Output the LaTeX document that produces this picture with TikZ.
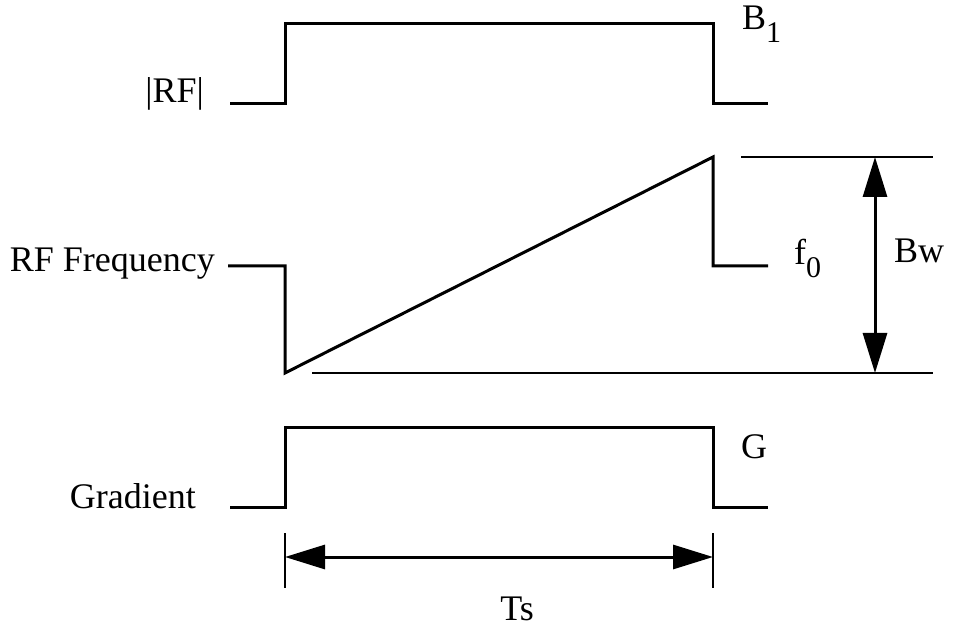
\documentclass[tikz,border=0pt]{standalone}
\usepackage{fontspec}
\setmainfont{Liberation Serif}
\usetikzlibrary{arrows.meta}
\tikzset{
  trace/.style={line width=3pt, line join=miter},
  guide/.style={line width=1.5pt},
  dimarrow/.style={line width=3pt, {Triangle[length=40pt,width=24pt]}-{Triangle[length=40pt,width=24pt]}},
  lbl/.style={inner sep=0pt, font=\fontsize{36}{42}\selectfont},
}
\newcommand{\mysub}[1]{\raisebox{-13pt}{\fontsize{30}{32}\selectfont #1}}
\begin{document}
\begin{tikzpicture}[x=1pt,y=-1pt]
\useasboundingbox (0,0) rectangle (959,628);
% |RF| trace
\coordinate (r0) at (230,104);
\coordinate (r1) at (285,104);
\coordinate (r2) at (285,24);
\coordinate (r3) at (713,24);
\coordinate (r4) at (713,104);
\coordinate (r5) at (768,104);
\draw[trace] (r0) -- (r1) -- (r2) -- (r3) -- (r4) -- (r5);
% RF frequency trace
\coordinate (f0) at (228,266);
\coordinate (f1) at (285,266);
\coordinate (f2) at (285,373);
\coordinate (f3) at (713,157);
\coordinate (f4) at (713,266);
\coordinate (f5) at (768,266);
\draw[trace] (f0) -- (f1) -- (f2) -- (f3) -- (f4) -- (f5);
% guide lines
\coordinate (gt0) at (741,157);
\coordinate (gt1) at (933,157);
\coordinate (gb0) at (312,373);
\coordinate (gb1) at (933,373);
\draw[guide] (gt0) -- (gt1);
\draw[guide] (gb0) -- (gb1);
\coordinate (bwt) at (875,157);
\coordinate (bwb) at (875,373);
\draw[dimarrow] (bwt) -- (bwb);
% Gradient trace
\coordinate (g0) at (230,507);
\coordinate (g1) at (285,507);
\coordinate (g2) at (285,427);
\coordinate (g3) at (713,427);
\coordinate (g4) at (713,507);
\coordinate (g5) at (768,507);
\draw[trace] (g0) -- (g1) -- (g2) -- (g3) -- (g4) -- (g5);
% Ts dimension
\coordinate (tl0) at (285,533);
\coordinate (tl1) at (285,588);
\coordinate (tr0) at (713,533);
\coordinate (tr1) at (713,588);
\draw[guide] (tl0) -- (tl1);
\draw[guide] (tr0) -- (tr1);
\coordinate (ta) at (285,557);
\coordinate (tb) at (713,557);
\draw[dimarrow] (ta) -- (tb);
% labels
\node[lbl, anchor=base east] (lrf) at (204,103) {|RF|};
\node[lbl, anchor=base east] (lfreq) at (215,272) {RF Frequency};
\node[lbl, anchor=base east] (lgrad) at (196,508) {Gradient};
\node[lbl, anchor=base west] (lb1) at (742,30) {B\mysub{1}};
\node[lbl, anchor=base west] (lf0) at (794,265) {f\mysub{0}};
\node[lbl, anchor=base west] (lbw) at (894,263) {Bw};
\node[lbl, anchor=base west] (lg) at (741,458) {G};
\node[lbl, anchor=base] (lts) at (517,620) {Ts};
\end{tikzpicture}
\end{document}
